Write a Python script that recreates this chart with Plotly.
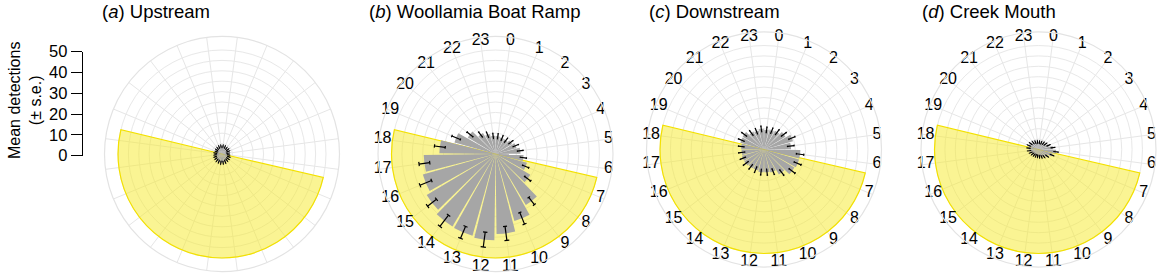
import plotly.graph_objects as go

# ---------------- data ----------------
hours = list(range(24))
hour_labels = [str(h) for h in hours]

upstream_mean = [3.8, 3.6, 3.4, 3.4, 3.2, 3.0, 3.2, 3.5, 3.6, 3.8, 4.0, 4.2,
                 4.2, 4.0, 3.9, 3.7, 3.5, 3.3, 3.2, 3.0, 3.2, 3.4, 3.6, 3.8]
upstream_se = [0.7, 0.8, 0.7, 0.8, 0.9, 0.8, 0.7, 0.8, 0.9, 0.8, 0.9, 0.8,
               0.9, 0.8, 0.8, 0.7, 0.8, 0.7, 0.8, 0.7, 0.8, 0.7, 0.8, 0.7]

woollamia_mean = [8.6, 8.3, 8.3, 9.3, 10.5, 12.0, 13.5, 15.7, 19.5, 28.5, 33.5, 38.5,
                  41.5, 40.8, 40.5, 38.5, 36.3, 34.5, 27.0, 20.5, 15.5, 11.8, 10.0, 8.8]
woollamia_se = [1.3, 1.3, 1.3, 1.3, 1.4, 1.4, 1.5, 1.6, 1.8, 2.2, 3.0, 3.4,
                3.6, 3.1, 3.4, 2.7, 3.0, 2.6, 2.6, 2.2, 1.8, 1.5, 1.4, 1.3]

downstream_mean = [9.5, 9.8, 10.5, 12.0, 14.5, 13.0, 17.5, 17.5, 17.0, 14.0, 11.5, 11.0,
                   11.0, 10.5, 10.5, 11.0, 11.0, 10.8, 11.0, 11.8, 12.0, 10.0, 9.5, 10.0]
downstream_se = [1.4, 1.4, 1.5, 1.5, 1.6, 1.6, 1.8, 1.8, 1.8, 1.6, 1.5, 1.5,
                 1.4, 1.5, 1.4, 1.5, 1.4, 1.5, 1.4, 1.5, 1.5, 1.4, 1.4, 1.4]

creek_mean = [3.5, 3.5, 3.8, 4.2, 5.2, 7.0, 8.5, 7.0, 5.2, 4.3, 3.8, 3.5,
              3.3, 3.3, 3.4, 3.6, 4.0, 4.5, 4.8, 5.0, 4.7, 4.2, 3.8, 3.6]
creek_se = [0.8, 0.8, 0.8, 0.9, 0.9, 1.0, 1.1, 1.0, 0.9, 0.8, 0.8, 0.8,
            0.8, 0.8, 0.8, 0.8, 0.8, 0.9, 0.9, 0.9, 0.9, 0.8, 0.8, 0.8]

panel_titles = ["(<i>a</i>) Upstream", "(<i>b</i>) Woollamia Boat Ramp",
                "(<i>c</i>) Downstream", "(<i>d</i>) Creek Mouth"]

sunrise_hour = 6.87
sunset_hour = 18.9
daylight_r = 50

y_ticks = [0, 10, 20, 30, 40, 50]
radial_grid = [5, 10, 15, 20, 25, 30, 35, 40, 45, 50]

# ---------------- layout geometry ----------------
W, H = 1163, 279
R_MAX = 56.5
R_PX = 117.5
centers = [(222, 154), (495.5, 154), (764, 149.5), (1038.5, 149.5)]
title_left = [100, 366.7, 646.7, 920]
FONT = "Arial, Liberation Sans, sans-serif"
CAP_DEG = 1.6  # half-width of error-bar caps, in degrees

series = [(upstream_mean, upstream_se), (woollamia_mean, woollamia_se),
          (downstream_mean, downstream_se), (creek_mean, creek_se)]

theta_centers = [15 * h + 7.5 for h in hours]

fig = go.Figure()


def errorbar_path(thetas, means, ses):
    rr, tt = [], []
    for th, m, s in zip(thetas, means, ses):
        lo, hi = max(m - s, 0.0), m + s
        rr += [lo, hi, None, lo, lo, None, hi, hi, None]
        tt += [th, th, None, th - CAP_DEG, th + CAP_DEG, None,
               th - CAP_DEG, th + CAP_DEG, None]
    return rr, tt


for i, ((mean, se), (cx, cy)) in enumerate(zip(series, centers)):
    pname = "polar" if i == 0 else f"polar{i+1}"
    sub = pname
    fig.add_trace(go.Barpolar(
        r=[daylight_r], theta=[7.5 * (sunrise_hour + sunset_hour)],
        width=[15 * (sunset_hour - sunrise_hour)],
        marker=dict(color="rgba(246,234,40,0.5)", line=dict(color="#f3e100", width=1.2)),
        subplot=sub, showlegend=False, hoverinfo="skip"))
    fig.add_trace(go.Barpolar(
        r=mean, theta=theta_centers, width=[13.5] * 24,
        marker=dict(color="#a6a6a6", line=dict(width=0)),
        subplot=sub, showlegend=False))
    er, et = errorbar_path(theta_centers, mean, se)
    fig.add_trace(go.Scatterpolar(
        r=er, theta=et, mode="lines", line=dict(color="black", width=1.2),
        subplot=sub, showlegend=False, hoverinfo="skip", connectgaps=False))
    if i > 0:
        fig.add_trace(go.Scatterpolar(
            r=[54.8] * 24, theta=theta_centers, text=hour_labels, mode="text",
            textfont=dict(family=FONT, size=16, color="black"),
            subplot=sub, showlegend=False, cliponaxis=False, hoverinfo="skip"))

    dom_x = [(cx - R_PX) / W, (cx + R_PX) / W]
    dom_y = [(H - cy - R_PX) / H, (H - cy + R_PX) / H]
    fig.update_layout(**{pname: dict(
        domain=dict(x=dom_x, y=dom_y),
        bgcolor="white",
        radialaxis=dict(range=[0, R_MAX], tickvals=radial_grid, showticklabels=False,
                        ticks="", showline=False, gridcolor="#e8e8e8", gridwidth=1),
        angularaxis=dict(direction="clockwise", rotation=90,
                         tickvals=theta_centers,
                         showticklabels=False, ticks="", showline=True,
                         linecolor="#e3e3e3", linewidth=1.2,
                         gridcolor="#e6e6e6", gridwidth=1),
    )})
    fig.add_annotation(text=panel_titles[i], x=title_left[i] / W, y=1 - 12 / H,
                       xref="paper", yref="paper", xanchor="left", yanchor="middle",
                       showarrow=False, font=dict(family=FONT, size=18.5, color="black"))

fig.add_trace(go.Scatter(x=[0], y=[0], mode="markers", marker=dict(opacity=0),
                         showlegend=False, hoverinfo="skip", xaxis="x", yaxis="y"))
y0_px, y50_px = 155.7, 51.7
fig.update_layout(
    xaxis=dict(domain=[82.7 / W, 84 / W], visible=False, range=[0, 1], automargin=False),
    yaxis=dict(domain=[(H - y0_px) / H, (H - y50_px) / H], range=[0, 50],
               anchor="x", side="left", tickvals=y_ticks, ticks="outside", ticklen=11,
               tickwidth=1, tickcolor="black", showline=True, linecolor="black",
               linewidth=1, showgrid=False, zeroline=False, automargin=False,
               tickfont=dict(family=FONT, size=16.5, color="black")),
)
fig.add_annotation(text="Mean detections<br>(± s.e.)", textangle=-90,
                   x=25 / W, y=1 - 101 / H, xref="paper", yref="paper",
                   xanchor="center", yanchor="middle", showarrow=False,
                   font=dict(family=FONT, size=16, color="black"))

fig.update_layout(width=W, height=H, autosize=False,
                  margin=dict(l=0, r=0, t=0, b=0, pad=0, autoexpand=False),
                  paper_bgcolor="white", plot_bgcolor="white",
                  font=dict(family=FONT), barmode="overlay")

fig.write_html("out.html",
               config={"displayModeBar": False, "responsive": False},
               post_script="document.body.style.margin='0';document.body.style.overflow='hidden';")
